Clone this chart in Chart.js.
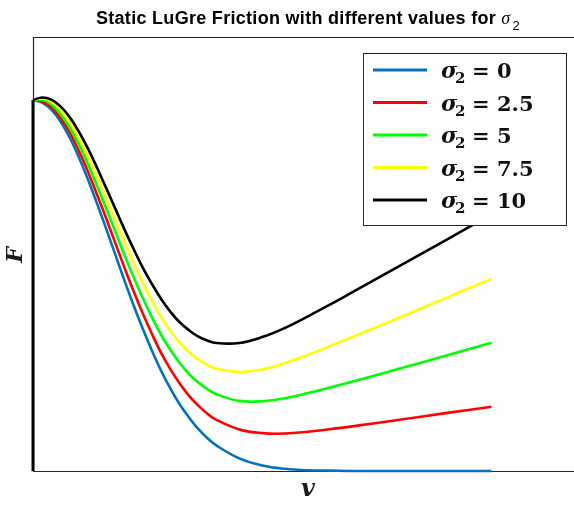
<!DOCTYPE html>
<html>
<head>
<meta charset="utf-8">
<script src="https://cdn.jsdelivr.net/npm/chart.js@4"></script>
<style>
  html, body { margin: 0; padding: 0; background: #fff; overflow: hidden; }
  #wrap { width: 620px; height: 507px; position: relative; }
</style>
</head>
<body>
<div id="wrap"><canvas id="frictionChart"></canvas></div>
<script>
const velocity = [0, 0.2, 0.4, 0.6, 0.8, 1.0, 1.2, 1.4, 1.6, 1.8, 2.0, 2.2, 2.4, 2.6, 2.8, 3.0, 3.2, 3.4, 3.6, 3.8, 4.0, 4.5, 5.0, 5.5, 6.0, 6.5, 7.0, 8.0, 9.0, 10.0];

// jump from rest to the static level at v = 0
const startVelocity = [0, 0];
const startForce = [0, 1];

const sigma2Labels = ["0", "2.5", "5", "7.5", "10"];

const forceS0 = [1, 0.993, 0.974, 0.942, 0.899, 0.846, 0.786, 0.720, 0.652, 0.582, 0.512, 0.445, 0.382, 0.323, 0.269, 0.222, 0.180, 0.145, 0.114, 0.089, 0.069, 0.034, 0.015, 0.006, 0.002, 0.001, 0, 0, 0, 0];
const forceS25 = [1, 0.996, 0.981, 0.952, 0.913, 0.863, 0.807, 0.744, 0.680, 0.613, 0.547, 0.483, 0.423, 0.368, 0.317, 0.274, 0.236, 0.203, 0.177, 0.155, 0.138, 0.112, 0.102, 0.101, 0.106, 0.113, 0.121, 0.138, 0.156, 0.173];
const forceS5 = [1, 1.000, 0.988, 0.962, 0.926, 0.881, 0.827, 0.768, 0.707, 0.644, 0.581, 0.521, 0.465, 0.413, 0.366, 0.326, 0.291, 0.262, 0.239, 0.221, 0.207, 0.189, 0.188, 0.196, 0.210, 0.226, 0.242, 0.276, 0.311, 0.346];
const forceS75 = [1, 1.004, 0.995, 0.973, 0.940, 0.898, 0.848, 0.793, 0.735, 0.675, 0.616, 0.559, 0.506, 0.458, 0.414, 0.377, 0.346, 0.321, 0.301, 0.286, 0.276, 0.267, 0.274, 0.291, 0.313, 0.338, 0.363, 0.414, 0.466, 0.518];
const forceS10 = [1, 1.007, 1.001, 0.983, 0.954, 0.915, 0.869, 0.817, 0.762, 0.706, 0.650, 0.597, 0.547, 0.503, 0.463, 0.429, 0.401, 0.380, 0.363, 0.352, 0.345, 0.345, 0.361, 0.386, 0.417, 0.450, 0.484, 0.553, 0.622, 0.691];

const seriesForces = [forceS0, forceS25, forceS5, forceS75, forceS10];
const lineColors = ["#0072BD", "#FF0000", "#00FF00", "#FFFF00", "#000000"];

function toPoints(xs, ys) {
    return ys.map((f, i) => ({ x: xs[i], y: f }));
}

const datasets = seriesForces.map((forces, i) => ({
    label: sigma2Labels[i],
    data: toPoints(velocity, forces),
    borderColor: lineColors[i],
    borderWidth: 2.6,
    pointRadius: 0,
    tension: 0.4,
    fill: false,
    clip: false,
    // black curve on top, blue at the bottom
    order: seriesForces.length - i
}));

datasets.push({
    label: "start",
    data: toPoints(startVelocity, startForce),
    borderColor: "#000000",
    borderWidth: 3,
    pointRadius: 0,
    fill: false,
    clip: false,
    order: 0
});

// axes box: top, left and bottom edges (right edge falls off the page)
const axesBox = {
    id: "axesBox",
    beforeDatasetsDraw(chart) {
        const { ctx, chartArea: a } = chart;
        ctx.save();
        ctx.strokeStyle = "#262626";
        ctx.lineWidth = 1.2;
        ctx.beginPath();
        ctx.moveTo(a.right + 5, Math.round(a.top) + 0.5);
        ctx.lineTo(Math.round(a.left) + 0.5, Math.round(a.top) + 0.5);
        ctx.lineTo(Math.round(a.left) + 0.5, Math.round(a.bottom) + 0.5);
        ctx.lineTo(a.right + 5, Math.round(a.bottom) + 0.5);
        ctx.stroke();
        ctx.restore();
    }
};

// title, axis labels and the boxed legend with sigma_2 subscripts
const labelsAndLegend = {
    id: "labelsAndLegend",
    afterDraw(chart) {
        const { ctx, chartArea: a } = chart;
        const midX = (a.left + a.right) / 2;
        ctx.save();

        // title
        const titleMain = "Static LuGre Friction with different values for ";
        ctx.fillStyle = "#000";
        ctx.textBaseline = "alphabetic";
        ctx.letterSpacing = "0.3px";
        ctx.font = "bold 18px 'Liberation Sans', Arial, sans-serif";
        const wMain = ctx.measureText(titleMain).width;
        ctx.font = "italic 18px 'Liberation Serif', serif";
        const wSig = ctx.measureText("σ").width;
        ctx.font = "13px 'Liberation Sans', Arial, sans-serif";
        const wSub = ctx.measureText("2").width;
        let tx = midX - (wMain + wSig + 2 + wSub) / 2;
        ctx.font = "bold 18px 'Liberation Sans', Arial, sans-serif";
        ctx.textAlign = "left";
        ctx.fillText(titleMain, tx, 24);
        tx += wMain;
        ctx.font = "italic 18px 'Liberation Serif', serif";
        ctx.fillText("σ", tx, 24);
        tx += wSig + 2;
        ctx.font = "13px 'Liberation Sans', Arial, sans-serif";
        ctx.fillText("2", tx, 30);
        ctx.letterSpacing = "0px";

        // axis labels
        ctx.fillStyle = "#1a1a1a";
        ctx.textAlign = "center";
        ctx.textBaseline = "middle";
        ctx.font = "bold italic 24px 'DejaVu Serif', serif";
        ctx.fillText("v", midX, 490);
        ctx.save();
        ctx.translate(16, 255);
        ctx.rotate(-Math.PI / 2);
        ctx.font = "bold italic 22px 'DejaVu Serif', serif";
        ctx.fillText("F", 0, 0);
        ctx.restore();

        // legend box
        const bx = 363, by = 53, bw = 203, bh = 172;
        ctx.fillStyle = "#fff";
        ctx.fillRect(bx, by, bw, bh);
        ctx.strokeStyle = "#262626";
        ctx.lineWidth = 1;
        ctx.strokeRect(bx + 0.5, by + 0.5, bw, bh);

        chart.data.datasets.slice(0, sigma2Labels.length).forEach((ds, i) => {
            const y = 70 + i * 32.5;
            ctx.strokeStyle = ds.borderColor;
            ctx.lineWidth = 3;
            ctx.beginPath();
            ctx.moveTo(373, y);
            ctx.lineTo(427, y);
            ctx.stroke();

            ctx.fillStyle = "#111";
            ctx.textAlign = "left";
            ctx.textBaseline = "alphabetic";
            ctx.font = "bold italic 22px 'DejaVu Serif', serif";
            ctx.fillText("σ", 441, y + 8);
            ctx.font = "bold 15px 'DejaVu Serif', serif";
            ctx.fillText("2", 455, y + 13);
            ctx.font = "bold 21px 'DejaVu Serif', serif";
            ctx.fillText("=", 472, y + 8);
            ctx.fillText(ds.label, 497, y + 8);
        });

        ctx.restore();
    }
};

new Chart(document.getElementById("frictionChart"), {
    type: "line",
    data: { datasets: datasets },
    options: {
        responsive: true,
        maintainAspectRatio: false,
        devicePixelRatio: 1,
        animation: false,
        layout: { padding: { left: 33, top: 37, right: 37, bottom: 36 } },
        plugins: {
            legend: { display: false },
            title: { display: false },
            tooltip: { enabled: false }
        },
        scales: {
            x: { type: "linear", min: 0, max: 12, display: false },
            y: { min: 0, max: 1.17, display: false }
        }
    },
    plugins: [axesBox, labelsAndLegend]
});
</script>
</body>
</html>
